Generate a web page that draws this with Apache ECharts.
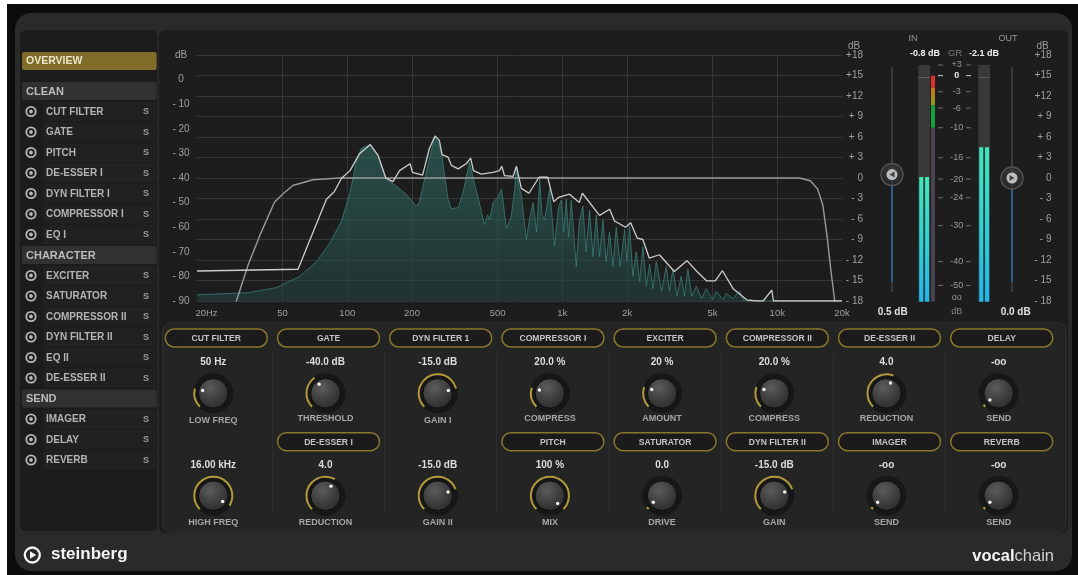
<!DOCTYPE html>
<html>
<head>
<meta charset="utf-8">
<script src="https://cdn.jsdelivr.net/npm/echarts@6.0.0/dist/echarts.min.js"></script>
<style>html,body{margin:0;padding:0;background:#fff;}#chart{width:1078px;height:575px;}</style>
</head>
<body>
<div id="chart"></div>
<script>
// ---------------- DATA ----------------
const freqTicks = [20, 50, 100, 200, 500, 1000, 2000, 5000, 10000, 20000];
const freqTickLabels = ['20Hz', '50', '100', '200', '500', '1k', '2k', '5k', '10k', '20k'];

const spectrumFreq = [20,35,47,60,72,83,94,103,110,116,128,139,152,170,188,209,216,233,255,266,274,294,305,328,344,370,386,415,434,450,460,476,500,522,550,578,600,612,630,645,681,700,731,760,785,805,828,873,921,960,989,1015,1044,1070,1101,1161,1200,1247,1290,1339,1390,1439,1490,1545,1600,1659,1720,1783,1860,1950,2000,2057,2130,2209,2290,2372,2460,2548,2640,2736,2900,3046,3150,3271,3420,3575,3700,3838,4000,4199,4450,4674,5000,5203,5600,5791,6220,6680,7000,20000];
const spectrumDb = [-87.5,-86.6,-84.5,-80,-74,-66.4,-57.5,-46,-33.6,-28,-26.4,-30.8,-40.4,-43.5,-46.6,-51.4,-50,-37.7,-23.3,-26,-29.5,-48.6,-52.5,-52,-46.6,-33.6,-40.4,-51.4,-58.9,-55,-57,-50,-48,-44.5,-60.5,-56,-45,-35.6,-44,-47,-65,-58,-50,-62,-40.4,-55,-57,-44.5,-67.8,-52,-49,-62,-48.6,-64,-49,-76,-58,-51.4,-70,-53,-72,-55,-72,-57,-74,-62,-76,-60,-76,-61,-74,-59.6,-80,-70,-82,-68,-84,-75,-85,-74,-86,-76,-86,-77,-88,-80,-88,-77,-88,-84,-89,-85,-89.5,-86,-89.5,-87,-89,-86,-90,-90];

const peakFreq = [20,59,80,87,94,103,114,128,139,151,163,175,196,201,224,241,256,268,276,294,305,328,357,375,386,420,476,510,523,538,591,612,645,700,780,855,913,960,1080,1200,1240,1490,1660,1750,1970,2080,2230,2370,2540,2830,3320,3800,4230,4690,5150,5560,6220,7200,7970,8600,9430,9600,20000];
const peakDb = [-77.8,-77.1,-48.6,-45.6,-40.1,-37,-30.1,-26.4,-30.8,-40,-41.5,-37,-34.2,-37.7,-38.8,-28,-22.9,-24.7,-30.5,-31.5,-34.9,-36.3,-34.2,-31.9,-37,-38.4,-37.7,-37,-35.2,-39,-39.3,-35.2,-44.2,-46.2,-39.7,-39.7,-49.7,-47.9,-46.6,-50,-46.2,-55.2,-52.7,-57.5,-60,-58.2,-64.4,-65,-72.6,-71.2,-78,-73.6,-78,-81.8,-81.8,-77.7,-84.9,-89.5,-90,-90,-85.6,-90,-90];

const filterFreq = [25,30.5,34.5,39.2,45.9,50.3,55.8,69.3,92,12700,14250,15400,16300,17100,17800,18500,19500];
const filterDb = [-30,-18,-12.8,-8.4,-3.5,-2.3,-1.1,-0.25,0,0,-0.4,-1.6,-4,-8.9,-13.8,-18,-30];

const meterScaleDb = [3,0,-3,-6,-10,-16,-20,-24,-30,-40,-50,-60];
const meterScaleLabels = ['+3','0','-3','-6','-10','-16','-20','-24','-30','-40','-50','oo'];
const meterInDb = [-19.6, -19.6];
const meterOutDb = [-13.9, -13.9];
const grZoneDb = [-10, -5.5, -2.2, 0];
const faderInDb = 0.5;
const faderOutDb = 0.0;
const faderLabels = ['0.5 dB', '0.0 dB'];
const peakHoldLabels = ['-0.8 dB', '-2.1 dB'];

const sections = ['CLEAN', 'CHARACTER', 'SEND'];
const cleanItems = ['CUT FILTER','GATE','PITCH','DE-ESSER I','DYN FILTER I','COMPRESSOR I','EQ I'];
const characterItems = ['EXCITER','SATURATOR','COMPRESSOR II','DYN FILTER II','EQ II','DE-ESSER II'];
const sendItems = ['IMAGER','DELAY','REVERB'];

const moduleTop = ['CUT FILTER','GATE','DYN FILTER 1','COMPRESSOR I','EXCITER','COMPRESSOR II','DE-ESSER II','DELAY'];
const moduleBottom = ['','DE-ESSER I','','PITCH','SATURATOR','DYN FILTER II','IMAGER','REVERB'];
const knobTopValues = ['50 Hz','-40.0 dB','-15.0 dB','20.0 %','20 %','20.0 %','4.0','-oo'];
const knobTopNames = ['LOW FREQ','THRESHOLD','GAIN I','COMPRESS','AMOUNT','COMPRESS','REDUCTION','SEND'];
const knobTopSetting = [0.22,0.37,0.78,0.23,0.24,0.24,0.58,0.03];
const knobBottomValues = ['16.00 kHz','4.0','-15.0 dB','100 %','0.0','-15.0 dB','-oo','-oo'];
const knobBottomNames = ['HIGH FREQ','REDUCTION','GAIN II','MIX','DRIVE','GAIN','SEND','SEND'];
const knobBottomSetting = [0.95,0.61,0.76,1.0,0.03,0.76,0.03,0.03];

// ---------------- HELPERS ----------------
const FONT = '"Liberation Sans", Arial, sans-serif';
const fnt = (bold, size) => (bold ? 'bold ' : '') + size + 'px ' + FONT;
const lg = v => Math.log10(v);
function dbLabel(v) { if (v === 0) return '0'; if (v > 0) return (v < 10 ? '+ ' : '+') + v; return '- ' + (-v); }
// meter scale definition (non-linear meter law)
const METER_LAW = [[-200,0],[-60,0.019],[-50,0.069],[-40,0.169],[-30,0.321],[-24,0.439],[-20,0.518],[-16,0.608],[-10,0.735],[-6,0.818],[-3,0.887],[0,0.955],[3,1]];
function meterPos(db) {
  if (db <= METER_LAW[0][0]) return 0;
  for (let i = 1; i < METER_LAW.length; i++) {
    const a = METER_LAW[i-1], b = METER_LAW[i];
    if (db <= b[0]) return a[1] + (b[1]-a[1]) * (db - a[0]) / (b[0] - a[0]);
  }
  return 1;
}

const chart = echarts.init(document.getElementById('chart'), null, {renderer: 'canvas', width: 1078, height: 575});

const meterGrad = () => new echarts.graphic.LinearGradient(0,0,0,1,[{offset:0,color:'#3fe8b8'},{offset:0.5,color:'#2ad4d6'},{offset:1,color:'#1cb8ee'}]);
const handleGrad = () => new echarts.graphic.RadialGradient(0.5,0.4,0.6,[{offset:0,color:'#474747'},{offset:1,color:'#232323'}]);
const zeroMark = {silent:true, symbol:'none', label:{show:false}, lineStyle:{color:'#5c5c5c', type:'solid', width:1}, data:[{yAxis: meterPos(0)}]};

function faderSeries(xi, yi, val, rot) {
  return [
    {type:'line', xAxisIndex:xi, yAxisIndex:yi, silent:true, symbol:'none', data:[[0,16.2],[0,-16.7]], lineStyle:{color:'#3a3a3a', width:2}, z:2},
    {type:'line', xAxisIndex:xi, yAxisIndex:yi, silent:true, symbol:'none', data:[[0,val],[0,-15.2]], lineStyle:{color:'#2b5c8a', width:2}, z:3},
    {type:'scatter', xAxisIndex:xi, yAxisIndex:yi, silent:true, symbol:'circle', symbolSize:22, data:[[0,val]], itemStyle:{color:handleGrad(), borderColor:'#5c5c5c', borderWidth:1.5}, z:4},
    {type:'scatter', xAxisIndex:xi, yAxisIndex:yi, silent:true, symbol:'circle', symbolSize:11, data:[[0,val]], itemStyle:{color:'#dedede'}, z:5},
    {type:'scatter', xAxisIndex:xi, yAxisIndex:yi, silent:true, symbol:'triangle', symbolSize:[6,5], symbolRotate:rot, data:[[0,val]], itemStyle:{color:'#262626'}, z:6}
  ];
}

const option = {
  animation: false,
  backgroundColor: '#ffffff',
  grid: [
    {left:197, top:55, width:645, height:246},
    {left:881, top:55, width:22, height:246},
    {left:918.3, top:65, width:11.7, height:236.7, show:true, backgroundColor:'#393939', borderWidth:0},
    {left:931, top:65, width:4, height:236.7},
    {left:978.3, top:65, width:11.7, height:236.7, show:true, backgroundColor:'#393939', borderWidth:0},
    {left:1001, top:55, width:22, height:246}
  ],
  xAxis: [
    {gridIndex:0, type:'value', min:lg(20), max:lg(20000),
      axisLine:{show:false},
      axisTick:{show:false, customValues: freqTicks.slice(1, -1).map(lg)},
      splitLine:{show:true, lineStyle:{color:'#363636', width:1}},
      axisLabel:{customValues: freqTicks.map(lg), margin:7, color:'#a0a0a0', fontSize:9.5, fontFamily:FONT,
        formatter: v => { const i = freqTicks.findIndex(t => Math.abs(lg(t) - v) < 1e-6); if (i < 0) return ''; return i === 0 ? '{a|' + freqTickLabels[i] + '}' : freqTickLabels[i]; },
        rich:{a:{padding:[0,0,0,19], color:'#a0a0a0', fontSize:9.5, fontFamily:FONT}}}},
    {gridIndex:1, type:'value', min:-1, max:1, show:false},
    {gridIndex:2, type:'category', data:['L','R'], show:false},
    {gridIndex:3, type:'category', data:['GR'], show:false},
    {gridIndex:4, type:'category', data:['L','R'], show:false},
    {gridIndex:5, type:'value', min:-1, max:1, show:false}
  ],
  yAxis: [
    {gridIndex:0, type:'value', position:'right', min:-18, max:18, interval:3,
      axisLine:{show:false}, axisTick:{show:false},
      splitLine:{show:true, lineStyle:{color:'#363636', width:1}},
      axisLabel:{formatter: dbLabel, align:'right', margin:21, color:'#a0a0a0', fontSize:10, fontFamily:FONT}},
    {gridIndex:0, type:'value', position:'left', min:-90, max:10, interval:10,
      axisLine:{show:false}, axisTick:{show:false}, splitLine:{show:false},
      axisLabel:{formatter: v => v === 10 ? 'dB' : (v === 0 ? '0' : '- ' + (-v)), align:'center', margin:16, color:'#a0a0a0', fontSize:10, fontFamily:FONT}},
    {gridIndex:1, type:'value', min:-18, max:18, show:false},
    {gridIndex:2, type:'value', min:0, max:1, show:false},
    {gridIndex:3, type:'value', min:0, max:1, show:false},
    {gridIndex:4, type:'value', min:0, max:1, show:false},
    {gridIndex:5, type:'value', position:'right', min:-18, max:18, interval:3,
      axisLine:{show:false}, axisTick:{show:false}, splitLine:{show:false},
      axisLabel:{formatter: dbLabel, align:'right', margin:28.5, color:'#a0a0a0', fontSize:10, fontFamily:FONT}}
  ],
  series: [
    {type:'line', name:'spectrum', xAxisIndex:0, yAxisIndex:1, silent:true, showSymbol:false, symbol:'none',
      data: spectrumFreq.map((fr, i) => [lg(fr), spectrumDb[i]]),
      lineStyle:{color:'#3a7e75', width:0.8},
      areaStyle:{origin:'start', color: new echarts.graphic.LinearGradient(0,0,0,1,[{offset:0,color:'rgba(50,112,104,0.85)'},{offset:1,color:'rgba(34,66,63,0.85)'}])}, z:2},
    {type:'line', name:'peak', xAxisIndex:0, yAxisIndex:1, silent:true, showSymbol:false, symbol:'none',
      data: peakFreq.map((fr, i) => [lg(fr), peakDb[i]]),
      lineStyle:{color:'#cdcdcd', width:1.3}, z:4},
    {type:'line', name:'filter', xAxisIndex:0, yAxisIndex:0, silent:true, showSymbol:false, symbol:'none', clip:true,
      data: filterFreq.map((fr, i) => [lg(fr), filterDb[i]]),
      lineStyle:{color:'#9a9a9a', width:1.4}, z:3},
    ...faderSeries(1, 2, faderInDb, 90),
    {type:'bar', xAxisIndex:2, yAxisIndex:3, silent:true, barWidth:4, data: meterInDb.map(meterPos), itemStyle:{color: meterGrad()}, markLine: zeroMark},
    {type:'bar', xAxisIndex:3, yAxisIndex:4, silent:true, barWidth:4, stack:'gr', data:[meterPos(grZoneDb[0])], itemStyle:{color:'#4a424e'}},
    {type:'bar', xAxisIndex:3, yAxisIndex:4, silent:true, barWidth:4, stack:'gr', data:[meterPos(grZoneDb[1]) - meterPos(grZoneDb[0])], itemStyle:{color:'#17a03a'}},
    {type:'bar', xAxisIndex:3, yAxisIndex:4, silent:true, barWidth:4, stack:'gr', data:[meterPos(grZoneDb[2]) - meterPos(grZoneDb[1])], itemStyle:{color: new echarts.graphic.LinearGradient(0,0,0,1,[{offset:0,color:'#d2731e'},{offset:1,color:'#8a9a20'}])}},
    {type:'bar', xAxisIndex:3, yAxisIndex:4, silent:true, barWidth:4, stack:'gr', data:[meterPos(grZoneDb[3]) - meterPos(grZoneDb[2])], itemStyle:{color:'#d8322a'}},
    {type:'bar', xAxisIndex:4, yAxisIndex:5, silent:true, barWidth:4, data: meterOutDb.map(meterPos), itemStyle:{color: meterGrad()}, markLine: zeroMark},
    ...faderSeries(5, 6, faderOutDb, -90)
  ]
};
chart.setOption(option);

// ---------------- UI GRAPHICS ----------------
function buildGraphic() {
  const g = [];
  const rect = (x,y,w,h,fill,z,r,stroke,lw) => g.push({type:'rect', silent:true, z, shape:{x,y,width:w,height:h,r:r||0}, style:{fill, stroke:stroke||null, lineWidth:lw||0}});
  const text = (x,y,t,font,fill,align,z) => g.push({type:'text', silent:true, z:z||10, x, y, style:{text:t, font, fill, align:align||'center', verticalAlign:'middle'}});
  const line = (x1,y1,x2,y2,stroke,lw,z) => g.push({type:'line', silent:true, z:z||9, shape:{x1,y1,x2,y2}, style:{stroke, lineWidth:lw||1}});
  const circle = (cx,cy,r,fill,stroke,lw,z) => g.push({type:'circle', silent:true, z:z||10, shape:{cx,cy,r}, style:{fill:fill||null, stroke:stroke||null, lineWidth:lw||0}});

  // frame and panels
  rect(7,4,1071,571,'#0c0c0c',-40);
  rect(15,13,1057,558,'#2a2a2a',-39,16);
  rect(20,30,137.5,501,'#1c1c1c',-38,6);
  rect(159,30,909,503,'#1d1d1d',-38,6);
  rect(162.5,323,903.5,209,'#242424',-37,8,'#303030',1);

  // left navigation
  rect(22,52,134.7,18,'#7f6c28',-36,2);
  text(26,61.5,'OVERVIEW',fnt(1,10.5),'#ece6cc','left');
  const items = [cleanItems, characterItems, sendItems];
  let y = 91;
  sections.forEach((sec, si) => {
    rect(22,y-9,134.7,18,'#313131',-36,2);
    text(26,y+0.5,sec,fnt(1,11),'#bcbcbc','left');
    y += 20.5;
    items[si].forEach(name => {
      rect(43.3,y-9.5,113.4,19,'#212121',-36);
      circle(31,y,4.7,null,'#b8b8b8',1.8);
      circle(31,y,1.9,'#b8b8b8');
      text(46,y+0.5,name,fnt(1,10),'#b4b4b4','left');
      text(146,y+0.5,'S',fnt(1,9),'#9c9c9c');
      y += 20.5;
    });
  });

  // knob panel
  const pill = (cx, cy, label) => {
    rect(cx-51, cy-9, 102, 18, '#1b1b1b', 5, 9, '#8a772c', 1.5);
    text(cx, cy+0.5, label, fnt(1,8.6), '#c4c4c4');
  };
  const knob = (cx, cy, p) => {
    circle(cx, cy, 20, '#171717', null, 0, 5);
    const a0 = 135 * Math.PI / 180, a1 = (135 + 270 * p) * Math.PI / 180;
    g.push({type:'arc', silent:true, z:6, shape:{cx, cy, r:19, startAngle:a0, endAngle:a1, clockwise:true}, style:{stroke:'#b39a3a', lineWidth:2, fill:null}});
    circle(cx, cy, 14.8, new echarts.graphic.RadialGradient(0.4,0.32,0.75,[{offset:0,color:'#5c5c5c'},{offset:0.6,color:'#3c3c3c'},{offset:1,color:'#2a2a2a'}]), '#0f0f0f', 1, 7);
    circle(cx + 11 * Math.cos(a1), cy + 11 * Math.sin(a1), 1.7, '#f2f2f2', null, 0, 8);
  };
  const colStart = 216.3, colStep = 112.2;
  for (let i = 0; i < 8; i++) {
    const pc = colStart + i * colStep, kx = pc - 3;
    pill(pc, 338, moduleTop[i]);
    if (moduleBottom[i]) pill(pc, 441.7, moduleBottom[i]);
    text(kx, 362.5, knobTopValues[i], fnt(1,10), '#dedede');
    knob(kx, 393.3, knobTopSetting[i]);
    text(kx, moduleBottom[i] ? 418.5 : 420.7, knobTopNames[i], fnt(1,9), '#a6a6a6');
    text(kx, 465, knobBottomValues[i], fnt(1,10), '#dedede');
    knob(kx, 495.7, knobBottomSetting[i]);
    text(kx, 522.3, knobBottomNames[i], fnt(1,9), '#a6a6a6');
    if (i < 7) line(pc + 56, 353, pc + 56, 512, '#313131', 1, -30);
  }

  // meter headers and values
  text(913, 38.5, 'IN', fnt(0,9), '#9a9a9a');
  text(1008, 38.5, 'OUT', fnt(0,9), '#9a9a9a');
  text(925, 53.5, peakHoldLabels[0], fnt(1,9), '#f0f0f0');
  text(955, 53.5, 'GR', fnt(0,9.5), '#7a7a7a');
  text(984, 53.5, peakHoldLabels[1], fnt(1,9), '#f0f0f0');
  text(854, 46, 'dB', fnt(0,10), '#9c9c9c');
  text(1042.5, 46, 'dB', fnt(0,10), '#9c9c9c');
  text(892.7, 312.5, faderLabels[0], fnt(1,10), '#e0e0e0');
  text(1015.7, 312.5, faderLabels[1], fnt(1,10), '#e0e0e0');
  text(956.7, 311.7, 'dB', fnt(0,9), '#8a8a8a');

  // GR / meter scale
  meterScaleDb.forEach((db, i) => {
    const py = chart.convertToPixel({gridIndex:3}, [0, meterPos(db)])[1];
    const isZero = db === 0;
    text(956.7, py, meterScaleLabels[i], fnt(isZero ? 1 : 0, 9), isZero ? '#e6e6e6' : '#9a9a9a');
    if (i < meterScaleDb.length - 1) {
      const c = isZero ? '#d0d0d0' : '#6e6e6e';
      line(938, py, 943, py, c, 1);
      line(966, py, 971, py, c, 1);
    }
  });

  // logos
  circle(32.3, 555, 7.5, null, '#f4f4f4', 2.3);
  g.push({type:'polygon', silent:true, z:10, shape:{points:[[30,551.3],[30,558.7],[36.2,555]]}, style:{fill:'#f4f4f4'}});
  text(51, 554.5, 'steinberg', fnt(1,17), '#f4f4f4', 'left');
  const ctx = document.createElement('canvas').getContext('2d');
  ctx.font = fnt(0,16.5);
  const wChain = ctx.measureText('chain').width;
  text(1054, 556, 'chain', fnt(0,16.5), '#d2d2d2', 'right');
  text(1054 - wChain, 556, 'vocal', fnt(1,16.5), '#f4f4f4', 'right');
  return g;
}
chart.setOption({graphic: {elements: buildGraphic()}});
</script>
</body>
</html>
